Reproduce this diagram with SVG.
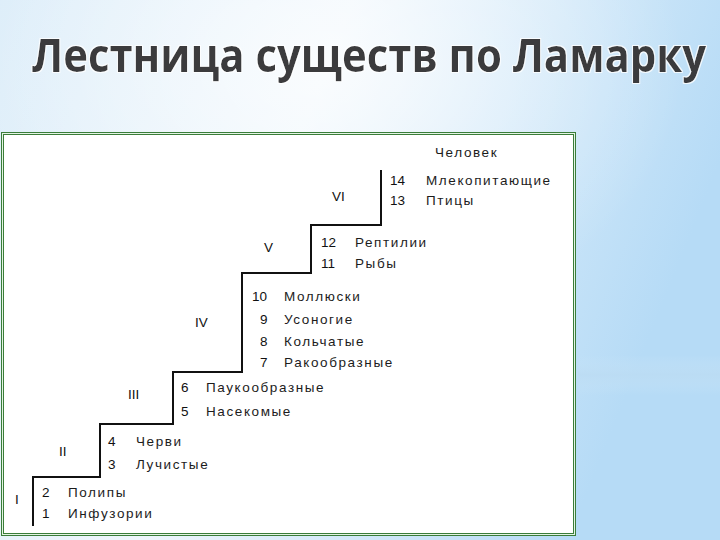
<svg xmlns="http://www.w3.org/2000/svg" width="720" height="540" viewBox="0 0 720 540">
  <defs>
    <linearGradient id="bg" x1="0" y1="0" x2="1" y2="0.3">
      <stop offset="0" stop-color="#dcedf9"/>
      <stop offset="0.45" stop-color="#eef6fc"/>
      <stop offset="1" stop-color="#b6dbf6"/>
    </linearGradient>
    <radialGradient id="glow" cx="0.45" cy="0.12" r="0.5">
      <stop offset="0" stop-color="#ffffff" stop-opacity="0.7"/>
      <stop offset="1" stop-color="#ffffff" stop-opacity="0"/>
    </radialGradient>
    <linearGradient id="band" x1="0" y1="0" x2="0" y2="1">
      <stop offset="0" stop-color="#c9e5f8" stop-opacity="0"/>
      <stop offset="0.5" stop-color="#bcdcf3" stop-opacity="0.8"/>
      <stop offset="1" stop-color="#c9e5f8" stop-opacity="0"/>
    </linearGradient>
    <filter id="halo" x="-5%" y="-20%" width="110%" height="140%">
      <feMorphology in="SourceAlpha" operator="dilate" radius="1" result="d"/>
      <feFlood flood-color="#ffffff" flood-opacity="0.8"/>
      <feComposite in2="d" operator="in" result="w"/>
      <feMerge><feMergeNode in="w"/><feMergeNode in="SourceGraphic"/></feMerge>
    </filter>
  </defs>
  <style>
    .t { font-family: "Liberation Sans", Arial, sans-serif; font-size: 13.5px; letter-spacing: 1.6px; fill: #1c1c1c; }
    .r { font-family: "Liberation Sans", Arial, sans-serif; font-size: 13.5px; fill: #111; }
    .title { font-family: "Open Sans", "DejaVu Sans", sans-serif; font-weight: bold; font-size: 46px; fill: #3a3b3d; }
    .stair { fill: none; stroke: #111; stroke-width: 2; }
  </style>

  <rect x="0" y="0" width="720" height="540" fill="url(#bg)"/>
  <rect x="0" y="0" width="720" height="540" fill="url(#glow)"/>
  <rect x="578" y="355" width="142" height="40" fill="url(#band)"/>

  <text class="title" x="32" y="72" textLength="674" lengthAdjust="spacingAndGlyphs" filter="url(#halo)">Лестница существ по Ламарку</text>

  <g id="frame">
    <rect x="1.5" y="132.5" width="574" height="403" fill="#e4f4e4" stroke="#3a7d3a" stroke-width="1"/>
    <rect x="3.5" y="134.5" width="570" height="399" fill="#ffffff" stroke="#3a7d3a" stroke-width="1"/>
  </g>

  <g id="connectors">
    <path class="stair" d="M33,526 V477 H100 V424 H173 V372 H242 V273 H311 V225 H381 V170"/>
  </g>

  <g id="human">
    <text class="t" x="435" y="157">Человек</text>
  </g>
  <g id="step-VI">
    <text class="r" x="332" y="201">VI</text>
    <text class="r" x="390" y="185">14</text>
    <text class="t" x="426" y="185">Млекопитающие</text>
    <text class="r" x="390" y="205">13</text>
    <text class="t" x="426" y="205">Птицы</text>
  </g>
  <g id="step-V">
    <text class="r" x="264" y="252">V</text>
    <text class="r" x="321" y="247">12</text>
    <text class="t" x="355" y="247">Рептилии</text>
    <text class="r" x="321" y="268">11</text>
    <text class="t" x="355" y="268">Рыбы</text>
  </g>
  <g id="step-IV">
    <text class="r" x="195" y="327">IV</text>
    <text class="r" x="252" y="301">10</text>
    <text class="t" x="284" y="301">Моллюски</text>
    <text class="r" x="260" y="324">9</text>
    <text class="t" x="284" y="324">Усоногие</text>
    <text class="r" x="260" y="346">8</text>
    <text class="t" x="284" y="346">Кольчатые</text>
    <text class="r" x="260" y="367">7</text>
    <text class="t" x="284" y="367">Ракообразные</text>
  </g>
  <g id="step-III">
    <text class="r" x="128" y="399">III</text>
    <text class="r" x="181" y="392">6</text>
    <text class="t" x="206" y="392">Паукообразные</text>
    <text class="r" x="181" y="416">5</text>
    <text class="t" x="206" y="416">Насекомые</text>
  </g>
  <g id="step-II">
    <text class="r" x="59" y="456">II</text>
    <text class="r" x="108" y="446">4</text>
    <text class="t" x="136" y="446">Черви</text>
    <text class="r" x="108" y="469">3</text>
    <text class="t" x="136" y="469">Лучистые</text>
  </g>
  <g id="step-I">
    <text class="r" x="15" y="504">I</text>
    <text class="r" x="42" y="497">2</text>
    <text class="t" x="68" y="497">Полипы</text>
    <text class="r" x="42" y="518">1</text>
    <text class="t" x="68" y="518">Инфузории</text>
  </g>
</svg>
